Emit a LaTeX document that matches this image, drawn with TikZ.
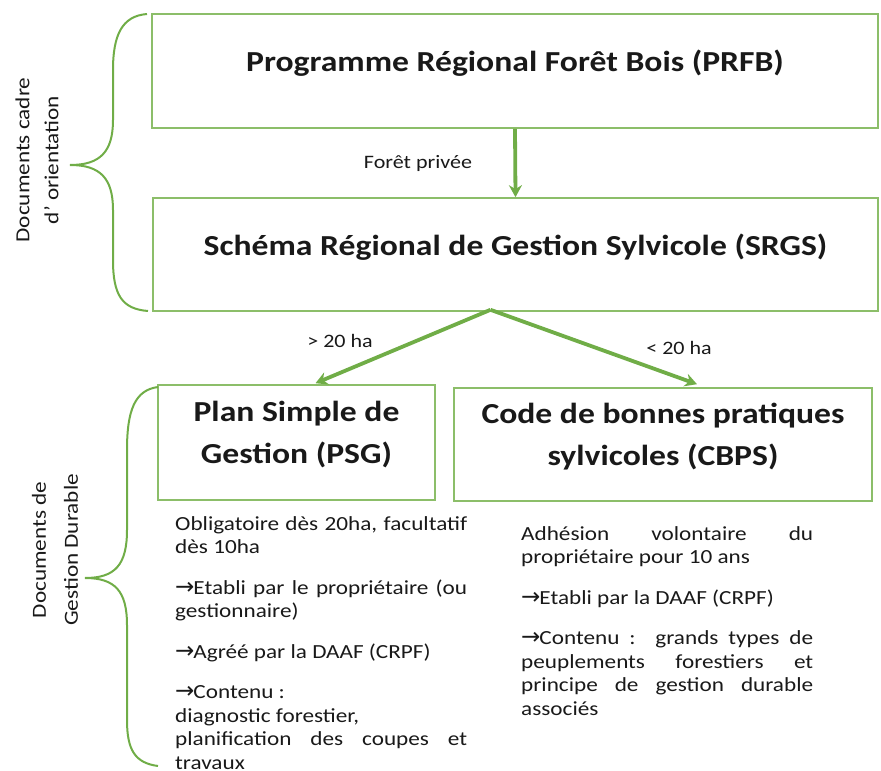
\documentclass[tikz,border=0pt]{standalone}
\usepackage{fontspec}
\setmainfont{Carlito}[FakeStretch=1.16]
\newfontfamily\arrowfont{DejaVu Sans}
\usepackage{xcolor}
\usepackage{tikz}
\definecolor{leafgreen}{RGB}{112, 173, 71}
\definecolor{boxgreen}{RGB}{140, 190, 105}
\definecolor{inkgray}{RGB}{25, 25, 25}
\usetikzlibrary{arrows.meta, positioning, calc}
\newcommand\fl{{\arrowfont\fontsize{23}{23}\selectfont →}\kern-1pt}
\newcommand\gap{\par\vspace{17pt}}

\begin{document}
\begin{tikzpicture}[
    x=1pt, y=-1pt,
    every node/.style={text=inkgray},
    bigbox/.style={rectangle, draw=boxgreen, line width=1.6pt, align=center, text depth=20pt, font=\fontsize{29}{42}\selectfont\bfseries},
    notes/.style={anchor=north west, inner sep=0pt, text width=292pt, align=justify, font=\fontsize{20}{23.5}\selectfont},
    tag/.style={font=\fontsize{19}{23}\selectfont},
    side/.style={rotate=90, align=center},
    flow/.style={draw=leafgreen, line width=3.8pt, -{Stealth[length=12pt, width=13pt]}},
    brace/.style={draw=leafgreen, line width=2pt}
]
    \useasboundingbox (0,0) rectangle (881,771);

    % cadre d'orientation
    \node[bigbox, minimum width=726pt, minimum height=114pt] (prfb) at (515,71) {Programme Régional Forêt Bois (PRFB)};
    \node[bigbox, minimum width=725pt, minimum height=113pt] (srgs) at (515.5,254.5) {Schéma Régional de Gestion Sylvicole (SRGS)};

    \draw[flow] (prfb.south) -- (srgs.north);
    \node[tag] (prive) at (418,163) {Forêt privée};

    % gestion durable
    \node[bigbox, minimum width=277pt, minimum height=115pt] (psg) at (296.5,442.5) {Plan Simple de\\Gestion (PSG)};
    \node[bigbox, minimum width=418pt, minimum height=113pt] (cbps) at (663,444.5) {Code de bonnes pratiques\\sylvicoles (CBPS)};

    \coordinate (split) at ($(srgs.south)+(-25,-2)$);
    \coordinate (psgin) at ($(psg.north)+(19,-1)$);
    \coordinate (cbpsin) at ($(cbps.north)+(34,-3)$);
    \draw[flow] (split) -- (psgin);
    \draw[flow] (split) -- (cbpsin);
    \node[tag] (plus) at (340,341) {> 20 ha};
    \node[tag] (moins) at (679,348) {< 20 ha};

    \node[notes] (psgtxt) at (175,516) {Obligatoire dès 20ha, facultatif\linebreak dès 10ha\gap
        \fl Etabli par le propriétaire (ou\linebreak gestionnaire)\gap
        \fl Agréé par la DAAF (CRPF)\gap
        \fl Contenu :\newline diagnostic forestier,\newline planification des coupes et\linebreak travaux};
    \node[notes] (cbpstxt) at (521,526) {Adhésion volontaire du\linebreak propriétaire pour 10 ans\gap
        \fl Etabli par la DAAF (CRPF)\gap
        \fl Contenu :\ \ grands types de\linebreak peuplements forestiers et\linebreak principe de gestion durable\linebreak associés};

    % accolades
    \draw[brace] (147,14) .. controls (122,16) and (113,35) .. (113,70) -- (113,120)
        .. controls (113,152) and (100,165) .. (70,165)
        .. controls (100,165) and (113,178) .. (113,210) -- (113,260)
        .. controls (113,295) and (122,309) .. (148,311);
    \draw[brace] (158,387) .. controls (135,390) and (127,410) .. (127,450) -- (127,530)
        .. controls (127,565) and (115,578) .. (85,578)
        .. controls (115,578) and (127,591) .. (127,625) -- (127,720)
        .. controls (127,750) and (135,763) .. (158,766);

    \node[side, font=\fontsize{20}{29}\selectfont] (cadre) at (37,160) {Documents cadre\\d’ orientation};
    \node[side, font=\fontsize{20}{32}\selectfont] (durable) at (55,550) {Documents de\\Gestion Durable};
\end{tikzpicture}
\end{document}
